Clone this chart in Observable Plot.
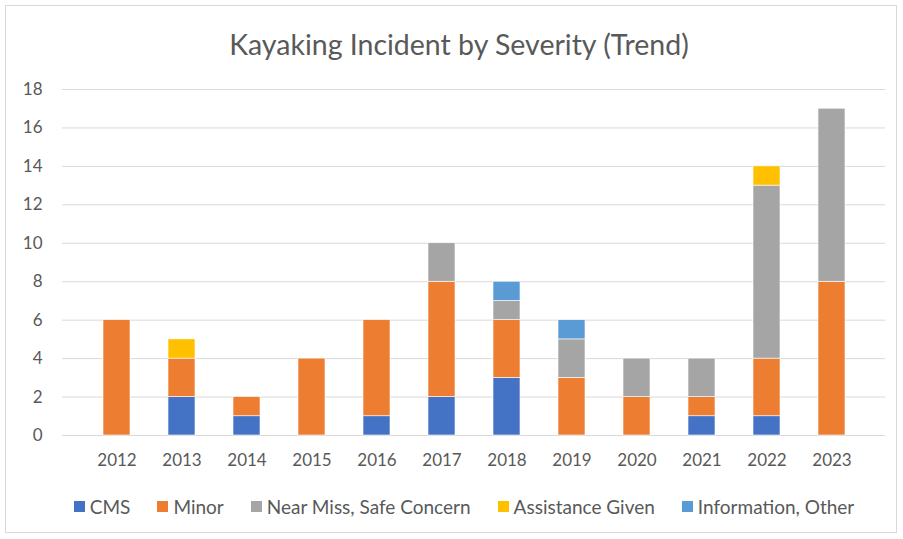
<!DOCTYPE html>
<html>
<head>
<meta charset="utf-8">
<script src="https://cdn.jsdelivr.net/npm/d3@7"></script>
<script src="https://cdn.jsdelivr.net/npm/@observablehq/plot@0.6"></script>
<style>
  body { margin: 0; background: #fff; font-family: Lato, "Open Sans", sans-serif; }
  #frame { position: absolute; left: 5px; top: 5px; width: 892px; height: 528px; border: 1px solid #d9d9d9; box-sizing: border-box; }
  #title { position: absolute; left: 0; top: 26px; width: 918px; text-align: center; font-size: 28.5px; line-height: 36px; color: #595959; }
  #chart { position: absolute; left: 0; top: 70px; }
  #legend { position: absolute; left: 0; top: 495px; width: 928px; display: flex; justify-content: center; gap: 27px; font-size: 19px; color: #595959; }
  .item { display: flex; align-items: center; gap: 5px; }
  .sw { width: 11px; height: 11px; display: inline-block; }
</style>
</head>
<body>
<div id="frame"></div>
<div id="title">Kayaking Incident by Severity (Trend)</div>
<div id="chart"></div>
<div id="legend"></div>
<script>
const years = ["2012","2013","2014","2015","2016","2017","2018","2019","2020","2021","2022","2023"];
const seriesNames = ["CMS", "Minor", "Near Miss, Safe Concern", "Assistance Given", "Information, Other"];
const seriesColors = ["#4472C4", "#ED7D31", "#A5A5A5", "#FFC000", "#5B9BD5"];
const cms        = [0, 2, 1, 0, 1, 2, 3, 0, 0, 1, 1, 0];
const minor      = [6, 2, 1, 4, 5, 6, 3, 3, 2, 1, 3, 8];
const nearMiss   = [0, 0, 0, 0, 0, 2, 1, 2, 2, 2, 9, 9];
const assistance = [0, 1, 0, 0, 0, 0, 0, 0, 0, 0, 1, 0];
const info       = [0, 0, 0, 0, 0, 0, 1, 1, 0, 0, 0, 0];
const yTicks = [0, 2, 4, 6, 8, 10, 12, 14, 16, 18];

const seriesValues = [cms, minor, nearMiss, assistance, info];
const data = [];
seriesNames.forEach((s, si) => {
  years.forEach((y, yi) => data.push({year: y, series: s, value: seriesValues[si][yi]}));
});

const chart = Plot.plot({
  width: 903,
  height: 410,
  marginLeft: 62,
  marginRight: 18,
  marginTop: 19,
  marginBottom: 45,
  style: {fontFamily: "Lato, 'Open Sans', sans-serif", fontSize: "17px", color: "#595959", background: "transparent"},
  x: {domain: years, padding: 0.585, label: null, tickSize: 0, tickPadding: 18},
  y: {domain: [0, 18], ticks: yTicks, label: null, tickSize: 0, tickPadding: 20},
  color: {domain: seriesNames, range: seriesColors},
  marks: [
    Plot.ruleY(yTicks, {stroke: "#d9d9d9", strokeWidth: 1}),
    Plot.barY(data, Plot.stackY({order: seriesNames}, {x: "year", y: "value", fill: "series", stroke: "#ffffff", strokeWidth: 0.6, inset: 0}))
  ]
});
document.getElementById("chart").appendChild(chart);

const legend = document.getElementById("legend");
seriesNames.forEach((s, i) => {
  const item = document.createElement("div");
  item.className = "item";
  const sw = document.createElement("span");
  sw.className = "sw";
  sw.style.background = seriesColors[i];
  const t = document.createElement("span");
  t.textContent = s;
  item.appendChild(sw);
  item.appendChild(t);
  legend.appendChild(item);
});
</script>
</body>
</html>
